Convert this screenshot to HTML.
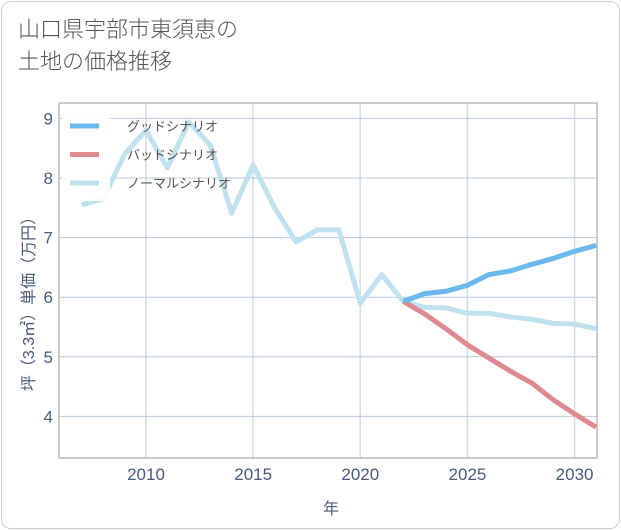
<!DOCTYPE html>
<html><head><meta charset="utf-8"><style>
body{margin:0;background:#fff;font-family:"Liberation Sans","Noto Sans CJK JP",sans-serif}
#card{position:absolute;left:1px;top:1px;width:617px;height:526px;border:1px solid #ccc;border-radius:10px;background:#fff}
#title{position:absolute;left:18px;top:14px;font-size:22px;line-height:32px;color:#555;font-weight:300}
</style></head><body>
<div id="card"></div>
<div id="title">山口県宇部市東須恵の<br>土地の価格推移</div>
<svg id="chart" width="621" height="530" style="position:absolute;left:0;top:0"></svg>
<script>
const years=[2007,2008,2009,2010,2011,2012,2013,2014,2015,2016,2017,2018,2019,2020,2021,2022];
const hist=[7.55,7.65,8.4,8.8,8.17,8.94,8.55,7.41,8.22,7.5,6.93,7.13,7.13,5.9,6.38,5.93];
const futYears=[2022,2023,2024,2025,2026,2027,2028,2029,2030,2031];
const good=[5.93,6.06,6.1,6.2,6.38,6.44,6.55,6.65,6.77,6.87];
const bad=[5.93,5.72,5.47,5.2,4.98,4.76,4.56,4.28,4.04,3.82];
const normal=[5.93,5.83,5.82,5.73,5.73,5.67,5.63,5.56,5.55,5.47];
const xTicks=[2010,2015,2020,2025,2030];
const yTicks=[4,5,6,7,8,9];
const L=59,R=597,T=103,B=458;
const x=v=>146+(v-2010)*21.43;
const y=v=>178-(v-8)*59.6;
const svg=document.getElementById('chart');
const NS='http://www.w3.org/2000/svg';
function mk(t,a){const e=document.createElementNS(NS,t);for(const k in a)e.setAttribute(k,a[k]);svg.appendChild(e);return e;}
xTicks.forEach(v=>{const g=mk('line',{x1:x(v),x2:x(v),y1:T,y2:B,stroke:'#d3dce8','stroke-width':1.5});

const t=mk('text',{x:x(v),y:B+22,'text-anchor':'middle','font-size':17,fill:'#4a5a7a'});t.textContent=v;
});
yTicks.forEach(v=>{const g=mk('line',{x1:L,x2:R,y1:y(v),y2:y(v),stroke:'#b8c8da','stroke-width':1});

const t=mk('text',{x:L-6,y:y(v)+6,'text-anchor':'end','font-size':17,fill:'#4a5a7a'});t.textContent=v;
});
const ax=mk('path',{d:`M${L},${T}V${B}H${R}V${T}H${L}`,fill:'none',stroke:'#999','stroke-width':1});

function line(xs,vs,c,name){const p=mk('polyline',{points:xs.map((v,i)=>x(v)+','+y(vs[i])).join(' '),fill:'none',stroke:c,'stroke-width':5,'stroke-linejoin':'round'});
}
line(years,hist,'#bfe1f0','normal-history-line');
line(futYears,normal,'#bfe1f0','normal-scenario-line');
line(futYears,bad,'#df8a90','bad-scenario-line');
line(futYears,good,'#6bb8ee','good-scenario-line');
const lb=mk('rect',{x:62,y:108,width:48,height:93,fill:'#fff','fill-opacity':0.92});

[['グッドシナリオ','#6bb8ee'],['バッドシナリオ','#df8a90'],['ノーマルシナリオ','#bfe1f0']].forEach((d,i)=>{
const yy=126+i*28.5;
const s=mk('line',{x1:70,x2:99,y1:yy,y2:yy,stroke:d[1],'stroke-width':5});

const t=mk('text',{x:127,y:yy+5,'font-size':13,fill:'#555'});t.textContent=d[0];
});
const yt=mk('text',{transform:'translate(34,300) rotate(-90)','text-anchor':'middle','font-size':16,fill:'#4a5a7a'});
yt.textContent='坪（3.3㎡）単価（万円）';

const xt=mk('text',{x:331,y:514,'text-anchor':'middle','font-size':16,fill:'#4a5a7a'});xt.textContent='年';

</script>
</body></html>
